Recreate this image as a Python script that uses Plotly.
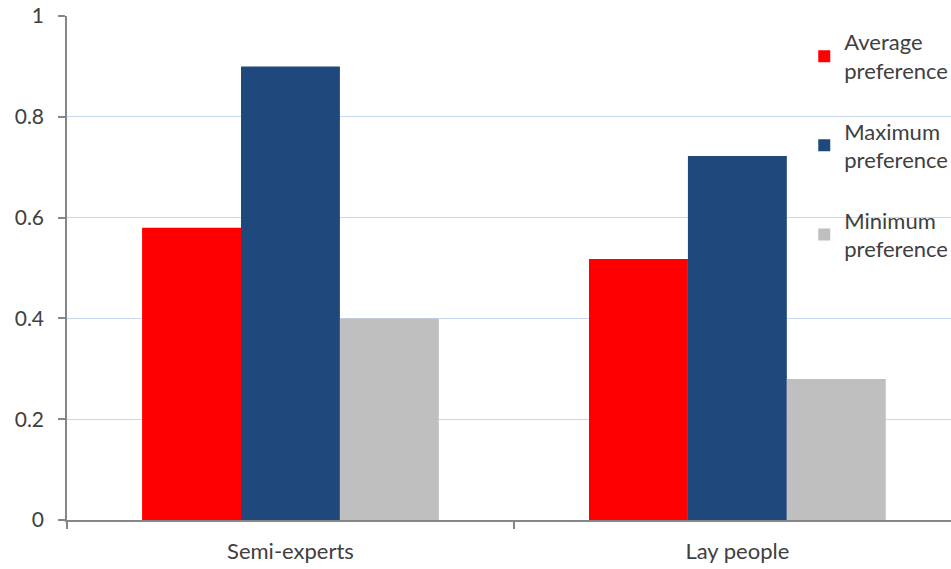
import plotly.graph_objects as go

categories = ["Semi-experts", "Lay people"]
series_names = ["Average<br>preference", "Maximum<br>preference", "Minimum<br>preference"]
average_pref = [0.58, 0.518]
maximum_pref = [0.90, 0.722]
minimum_pref = [0.40, 0.28]
colors = ["#FF0000", "#1F497D", "#BFBFBF"]
y_tickvals = [0, 0.2, 0.4, 0.6, 0.8, 1]
y_ticktext = ["0", "0.2", "0.4", "0.6", "0.8", "1"]

FONT = "Lato"
TXT = "#404040"

fig = go.Figure()
for i, (name, vals) in enumerate(zip(series_names, [average_pref, maximum_pref, minimum_pref])):
    fig.add_trace(go.Bar(
        x=categories, y=vals, name=name,
        marker=dict(color=colors[i], line=dict(width=0)),
        legendgroup=f"g{i}",
    ))

fig.update_layout(
    width=951, height=569,
    margin=dict(l=67, r=0, t=16, b=49, autoexpand=False),
    paper_bgcolor="white", plot_bgcolor="white",
    barmode="group", bargap=0.336, bargroupgap=0,
    font=dict(family=FONT, size=22, color=TXT),
    legend=dict(
        x=0.834, xanchor="left", y=0.99, yanchor="top",
        bgcolor="rgba(0,0,0,0)", borderwidth=0,
        tracegroupgap=29, itemwidth=30,
        font=dict(family=FONT, size=22, color=TXT),
    ),
    showlegend=True,
)
fig.update_xaxes(
    type="category", range=[-0.5, 1.478],
    showline=True, linecolor="#868686", linewidth=1.5,
    ticks="outside", tickson="boundaries", ticklen=7, tickcolor="#868686", tickwidth=1.5,
    showgrid=False, ticklabelstandoff=11,
    tickfont=dict(family=FONT, size=22, color=TXT),
)
fig.update_yaxes(
    range=[0, 1], tickvals=y_tickvals, ticktext=y_ticktext,
    showline=True, linecolor="#868686", linewidth=1.5,
    ticks="outside", ticklen=7, tickcolor="#868686", tickwidth=1.5,
    showgrid=True, gridcolor="#C6D9F1", gridwidth=1,
    zeroline=False, ticklabelstandoff=10,
    tickfont=dict(family=FONT, size=21, color=TXT),
)

fig.write_html("out.html")
